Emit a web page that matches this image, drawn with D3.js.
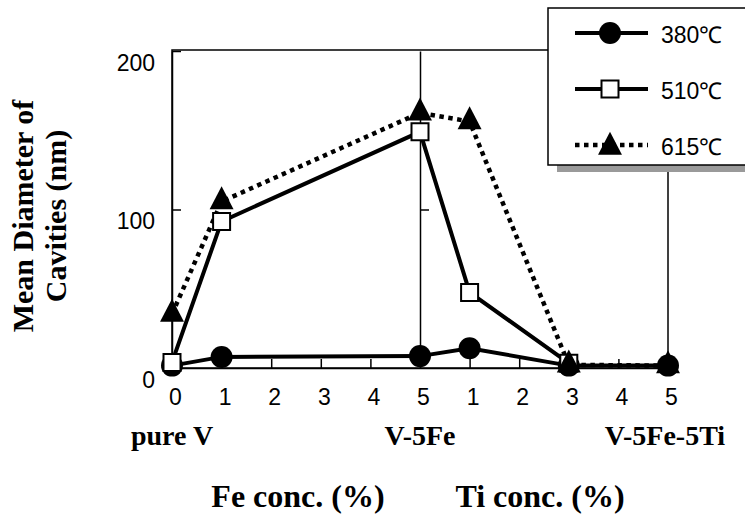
<!DOCTYPE html>
<html>
<head>
<meta charset="utf-8">
<script src="https://cdn.jsdelivr.net/npm/d3@7"></script>
<style>
  html, body { margin: 0; padding: 0; background: #fff; }
  svg { display: block; }
</style>
</head>
<body>
<svg id="chart" width="745" height="518"></svg>
<script>
// ---- data ----
const xTickLabels = ["0", "1", "2", "3", "4", "5", "1", "2", "3", "4", "5"];
const xPositions = [0, 1, 5, 6, 8, 10];           // pure V, V-1Fe, V-5Fe, +1Ti, +3Ti, +5Ti
const yTicks = [0, 100, 200];
const seriesNames = ["380℃", "510℃", "615℃"];
const values380 = [1.5, 7, 7.5, 12.5, 1.5, 1.5];
const values510 = [3.5, 92.5, 149, 47.7, 3, null];
const values615 = [34, 105, 161, 155.5, 2, 1.5];
const alloyLabels = ["pure V", "V-5Fe", "V-5Fe-5Ti"];
const alloyPositions = [0, 5, 10];
const axisTitlesX = ["Fe conc. (%)", "Ti conc. (%)"];
const axisTitleY = ["Mean Diameter of", "Cavities (nm)"];

(function () {
// ---- layout ----
const svg = d3.select("#chart");
const mLeft = 172, mRight = 668, mTop = 51, mBottom = 368;
const x = d3.scaleLinear().domain([0, 10]).range([mLeft, mRight]);
const y = d3.scaleLinear().domain([0, 200]).range([mBottom, mTop]);

const sansFont = "'Liberation Sans', Arial, Helvetica, sans-serif";
const serifFont = "'Liberation Serif', 'Times New Roman', Times, serif";

// frame
svg.append("rect")
  .attr("x", mLeft).attr("y", mTop - 1)
  .attr("width", mRight - mLeft).attr("height", mBottom - mTop + 1)
  .attr("fill", "none").attr("stroke", "#000").attr("stroke-width", 1.5);

// middle divider at V-5Fe
const midAxis = svg.append("g")
  .attr("transform", `translate(${x(5)},0)`)
  .call(d3.axisRight(y).tickValues([100]).tickSizeInner(9).tickSizeOuter(0).tickFormat(""));
midAxis.selectAll("path, line").attr("stroke", "#000").attr("stroke-width", 1.5);

// x axis
const xAxis = svg.append("g")
  .attr("transform", `translate(0,${mBottom})`)
  .call(d3.axisBottom(x).tickValues(d3.range(11))
    .tickFormat(i => xTickLabels[i]).tickSizeInner(-9).tickSizeOuter(0));
xAxis.selectAll("path, line").attr("stroke", "#000").attr("stroke-width", 1.5);
xAxis.selectAll("text")
  .attr("y", 37).attr("dy", 0).attr("dx", 3)
  .attr("font-family", sansFont).attr("font-size", 23).attr("fill", "#000");

// y axis
const yAxis = svg.append("g")
  .attr("transform", `translate(${mLeft},0)`)
  .call(d3.axisLeft(y).tickValues(yTicks).tickSizeInner(-9).tickSizeOuter(0));
yAxis.selectAll("path, line").attr("stroke", "#000").attr("stroke-width", 1.5);
yAxis.selectAll("text")
  .attr("x", -17).attr("dy", 19)
  .attr("font-family", sansFont).attr("font-size", 23).attr("fill", "#000");

// ---- series ----
const triangleType = {
  draw(ctx, size) {
    const h = Math.sqrt(size), w = h * 0.52;
    ctx.moveTo(0, -h * 2 / 3);
    ctx.lineTo(w, h / 3);
    ctx.lineTo(-w, h / 3);
    ctx.closePath();
  }
};

const series = [
  { name: seriesNames[0], values: values380, width: 4, dash: null,
    symbol: d3.symbolCircle, size: Math.PI * 11 * 11, fill: "#000", stroke: "none" },
  { name: seriesNames[1], values: values510, width: 4, dash: null,
    symbol: d3.symbolSquare, size: 17 * 17, fill: "#fff", stroke: "#000" },
  { name: seriesNames[2], values: values615, width: 4.5, dash: "4.5,4.5",
    symbol: triangleType, size: 23 * 23, fill: "#000", stroke: "none" }
];

const line = d3.line().x(d => x(d[0])).y(d => y(d[1]));

// lines: dotted first so solid lines lie on top
series.slice().reverse().forEach(s => {
  const pts = xPositions.map((p, i) => [p, s.values[i]]).filter(d => d[1] != null);
  svg.append("path")
    .datum(pts)
    .attr("d", line)
    .attr("fill", "none")
    .attr("stroke", "#000")
    .attr("stroke-width", s.width)
    .attr("stroke-dasharray", s.dash);
});

series.forEach(s => {
  const pts = xPositions.map((p, i) => [p, s.values[i]]).filter(d => d[1] != null);
  svg.append("g").selectAll("path")
    .data(pts).join("path")
    .attr("transform", d => `translate(${x(d[0])},${y(d[1])})`)
    .attr("d", d3.symbol().type(s.symbol).size(s.size))
    .attr("fill", s.fill)
    .attr("stroke", s.stroke)
    .attr("stroke-width", 2);
});

// ---- legend ----
svg.append("rect")
  .attr("x", 557).attr("y", 165).attr("width", 200).attr("height", 7)
  .attr("fill", "#9a9a9a");
svg.append("rect")
  .attr("x", 548).attr("y", 8).attr("width", 220).attr("height", 157)
  .attr("fill", "#fff").attr("stroke", "#000").attr("stroke-width", 1.5);

const legendRows = [33, 89, 145];
series.forEach((s, i) => {
  const ly = legendRows[i];
  svg.append("line")
    .attr("x1", 575).attr("x2", 648).attr("y1", ly).attr("y2", ly)
    .attr("stroke", "#000").attr("stroke-width", s.width)
    .attr("stroke-dasharray", s.dash);
  svg.append("path")
    .attr("transform", `translate(610,${ly + (i === 2 ? 2 : 0)})`)
    .attr("d", d3.symbol().type(s.symbol).size(s.size))
    .attr("fill", s.fill).attr("stroke", s.stroke).attr("stroke-width", 2);
  svg.append("text")
    .attr("x", 661).attr("y", ly + 10)
    .attr("font-family", sansFont).attr("font-size", 23)
    .text(s.name);
});

// ---- labels ----
alloyLabels.forEach((t, i) => {
  svg.append("text")
    .attr("x", x(alloyPositions[i]) + (i === 2 ? -3 : 0)).attr("y", 445)
    .attr("text-anchor", "middle")
    .attr("font-family", serifFont).attr("font-weight", "bold").attr("font-size", 28)
    .text(t);
});

[298, 540].forEach((cx, i) => {
  svg.append("text")
    .attr("x", cx).attr("y", 507)
    .attr("text-anchor", "middle")
    .attr("font-family", serifFont).attr("font-weight", "bold").attr("font-size", 32)
    .text(axisTitlesX[i]);
});

[33, 66].forEach((bx, i) => {
  svg.append("text")
    .attr("transform", `translate(${bx},216) rotate(-90)`)
    .attr("text-anchor", "middle")
    .attr("font-family", serifFont).attr("font-weight", "bold").attr("font-size", 30)
    .text(axisTitleY[i]);
});
})();
</script>
</body>
</html>
